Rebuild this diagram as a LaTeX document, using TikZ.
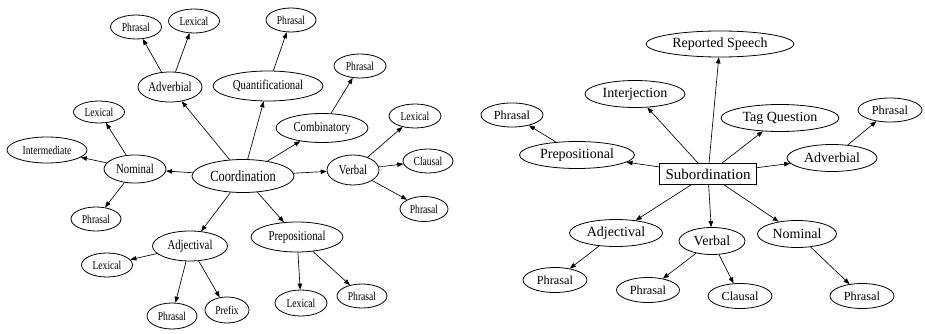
\documentclass[tikz,border=0pt]{standalone}
\usepackage{fontspec}
\setmainfont{Liberation Serif}
\newfontfamily\narrowserif[FakeStretch=0.8]{Liberation Serif}
\usetikzlibrary{shapes.geometric,arrows.meta}
\tikzset{
  oval/.style={draw, ellipse, line width=0.8pt, inner sep=0pt},
  sz/.style 2 args={minimum width=#1pt, minimum height=#2pt},
  cleaf/.style={oval, font=\narrowserif\fontsize{12}{12}\selectfont},
  cmid/.style={oval, font=\narrowserif\fontsize{13.5}{13.5}\selectfont},
  croot/.style={oval, font=\narrowserif\fontsize{15.5}{15.5}\selectfont},
  sleaf/.style={oval, font=\fontsize{12.3}{12.3}\selectfont},
  smid/.style={oval, font=\fontsize{14}{14}\selectfont},
  sroot/.style={draw, rectangle, line width=0.8pt, inner sep=0pt,
    font=\fontsize{15}{15}\selectfont},
  edge/.style={line width=0.65pt, -{Triangle[length=6pt,width=4.5pt]}},
}
\begin{document}
\begin{tikzpicture}[x=1pt, y=-1pt]
\useasboundingbox (0,0) rectangle (925,334);

% ---- Coordination tree ----
\node[croot, sz={102}{33}] (coord) at (243,176) {Coordination};
\node[cmid, sz={62}{28}] (cnom) at (135,169) {Nominal};
\node[cleaf, sz={80}{26}] (cnomint) at (47,150) {Intermediate};
\node[cleaf, sz={51}{22}] (cnomlex) at (99,112) {Lexical};
\node[cleaf, sz={50}{24}] (cnomphr) at (96,219) {Phrasal};
\node[cmid, sz={64}{30}] (cadv) at (170,87) {Adverbial};
\node[cleaf, sz={51}{24}] (cadvphr) at (136,27) {Phrasal};
\node[cleaf, sz={51}{24}] (cadvlex) at (194,21) {Lexical};
\node[cmid, sz={110}{30}] (cquant) at (268,86) {Quantificational};
\node[cleaf, sz={50}{24}] (cquantphr) at (291,20) {Phrasal};
\node[cmid, sz={92}{29}] (ccomb) at (322,128) {Combinatory};
\node[cleaf, sz={52}{24}] (ccombphr) at (360,66) {Phrasal};
\node[cmid, sz={52}{30}] (cverb) at (353,170) {Verbal};
\node[cleaf, sz={52}{24}] (cverblex) at (415,116) {Lexical};
\node[cleaf, sz={50}{24}] (cverbcl) at (428,161) {Clausal};
\node[cleaf, sz={48}{25}] (cverbphr) at (424,209) {Phrasal};
\node[cmid, sz={92}{30}] (cprep) at (297,237) {Prepositional};
\node[cleaf, sz={52}{26}] (cpreplex) at (301,303) {Lexical};
\node[cleaf, sz={50}{24}] (cprepphr) at (362,296) {Phrasal};
\node[cmid, sz={75}{30}] (cadj) at (190,246) {Adjectival};
\node[cleaf, sz={51}{24}] (cadjlex) at (107,265) {Lexical};
\node[cleaf, sz={50}{26}] (cadjphr) at (172,316) {Phrasal};
\node[cleaf, sz={44}{26}] (cadjpre) at (227,310) {Prefix};

\foreach \t in {cnom,cadv,cquant,ccomb,cverb,cprep,cadj}
  \draw[edge] (coord) -- (\t);
\draw[edge] (cnom) -- (cnomlex);
\draw[edge] (cnom) -- (cnomint);
\draw[edge] (cnom) -- (cnomphr);
\draw[edge] (cadv) -- (cadvphr);
\draw[edge] (cadv) -- (cadvlex);
\draw[edge] (cquant) -- (cquantphr);
\draw[edge] (ccomb) -- (ccombphr);
\draw[edge] (cverb) -- (cverblex);
\draw[edge] (cverb) -- (cverbcl);
\draw[edge] (cverb) -- (cverbphr);
\draw[edge] (cprep) -- (cpreplex);
\draw[edge] (cprep) -- (cprepphr);
\draw[edge] (cadj) -- (cadjlex);
\draw[edge] (cadj) -- (cadjphr);
\draw[edge] (cadj) -- (cadjpre);

% ---- Subordination tree ----
\node[sroot, minimum width=97pt, minimum height=21pt] (sub) at (708,174) {Subordination};
\node[smid, sz={148}{26}] (srep) at (720,44) {Reported Speech};
\node[smid, sz={100}{27}] (sint) at (635,94) {Interjection};
\node[smid, sz={118}{27}] (stag) at (780,118) {Tag Question};
\node[smid, sz={115}{27}] (sprep) at (577,155) {Prepositional};
\node[sleaf, sz={62}{24}] (sprepphr) at (512,115) {Phrasal};
\node[smid, sz={90}{27}] (sadv) at (832,158) {Adverbial};
\node[sleaf, sz={64}{24}] (sadvphr) at (890,110) {Phrasal};
\node[smid, sz={93}{27}] (sadj) at (616,233) {Adjectival};
\node[sleaf, sz={64}{25}] (sadjphr) at (555,280) {Phrasal};
\node[smid, sz={66}{27}] (sverb) at (712,241) {Verbal};
\node[sleaf, sz={63}{25}] (sverbphr) at (648,290) {Phrasal};
\node[sleaf, sz={64}{25}] (sverbcl) at (740,296) {Clausal};
\node[smid, sz={79}{27}] (snom) at (797,234) {Nominal};
\node[sleaf, sz={64}{25}] (snomphr) at (862,296) {Phrasal};

\foreach \t in {srep,sint,stag,sprep,sadv,sadj,sverb,snom}
  \draw[edge] (sub) -- (\t);
\draw[edge] (sprep) -- (sprepphr);
\draw[edge] (sadv) -- (sadvphr);
\draw[edge] (sadj) -- (sadjphr);
\draw[edge] (sverb) -- (sverbphr);
\draw[edge] (sverb) -- (sverbcl);
\draw[edge] (snom) -- (snomphr);
\end{tikzpicture}
\end{document}
